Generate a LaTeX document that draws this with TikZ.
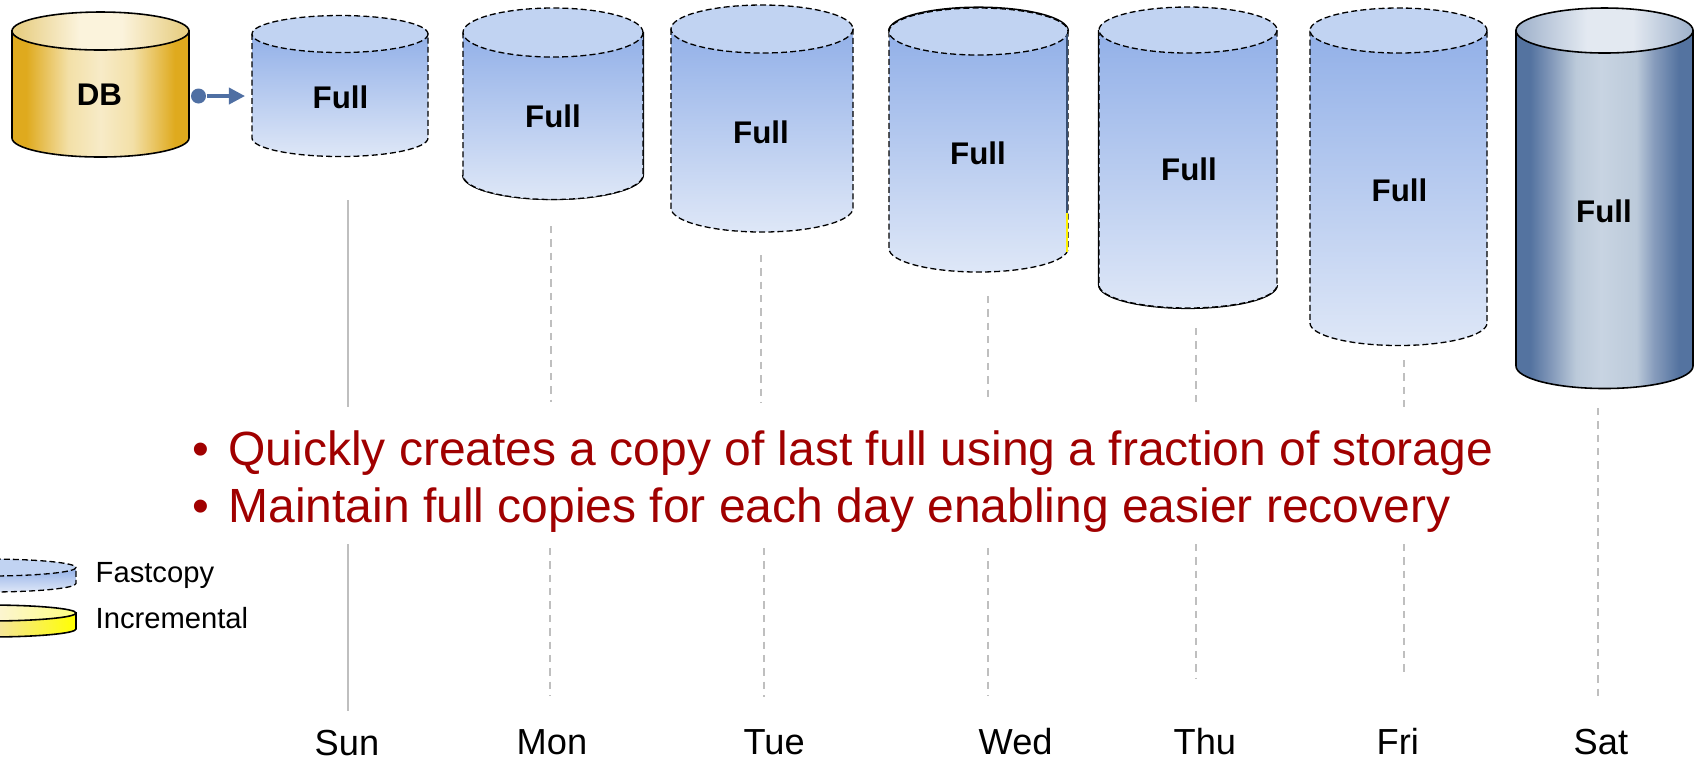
\documentclass[tikz,border=0pt]{standalone}
\usepackage{fontspec}
\usepackage{xcolor}
\setmainfont{Liberation Sans}
\usetikzlibrary{arrows.meta}

\definecolor{fulltop}{RGB}{146,176,232}
\definecolor{fullbot}{RGB}{222,231,247}
\definecolor{fullend}{RGB}{193,211,242}
\definecolor{dbedge}{RGB}{223,170,30}
\definecolor{dbhalf}{RGB}{243,224,168}
\definecolor{dbmid}{RGB}{247,235,200}
\definecolor{dbendedge}{RGB}{232,207,133}
\definecolor{dbendmid}{RGB}{251,243,220}
\definecolor{satedge}{RGB}{84,115,160}
\definecolor{satlow}{RGB}{135,156,188}
\definecolor{sathalf}{RGB}{188,202,218}
\definecolor{satmid}{RGB}{200,212,226}
\definecolor{satendedge}{RGB}{157,176,202}
\definecolor{satendmid}{RGB}{227,233,241}
\definecolor{flowblue}{RGB}{79,111,163}
\definecolor{textred}{RGB}{160,0,0}
\definecolor{linegray}{RGB}{191,191,191}

\pgfdeclarehorizontalshading{dbbodyshade}{100bp}{color(0bp)=(dbedge); color(29bp)=(dbedge); color(41bp)=(dbhalf); color(50bp)=(dbmid); color(59bp)=(dbhalf); color(71bp)=(dbedge); color(100bp)=(dbedge)}
\pgfdeclarehorizontalshading{dbendshade}{100bp}{color(0bp)=(dbendedge); color(27bp)=(dbendedge); color(44bp)=(dbendmid); color(56bp)=(dbendmid); color(73bp)=(dbendedge); color(100bp)=(dbendedge)}
\pgfdeclarehorizontalshading{satbodyshade}{100bp}{color(0bp)=(satedge); color(29bp)=(satedge); color(35.5bp)=(satlow); color(42bp)=(sathalf); color(49bp)=(satmid); color(59bp)=(sathalf); color(64bp)=(satlow); color(71bp)=(satedge); color(100bp)=(satedge)}
\pgfdeclarehorizontalshading{satendshade}{100bp}{color(0bp)=(satendedge); color(25bp)=(satendedge); color(45bp)=(satendmid); color(58bp)=(satendmid); color(75bp)=(satendedge); color(100bp)=(satendedge)}

\tikzset{
  fastline/.style={draw=black,line width=0.37pt,dash pattern=on 1.7pt off 0.9pt},
  fastbody/.style={fastline,top color=fulltop,bottom color=fullbot},
  fastend/.style={fastline,fill=fullend},
  dbbody/.style={draw=black,line width=0.45pt,shade,shading=dbbodyshade},
  dbend/.style={draw=black,line width=0.45pt,shade,shading=dbendshade},
  satbody/.style={draw=black,line width=0.45pt,shade,shading=satbodyshade},
  satend/.style={draw=black,line width=0.45pt,shade,shading=satendshade},
  incbody/.style={draw=black,line width=0.45pt,left color=dbedge,right color=yellow,middle color=dbmid!85!dbedge},
  incend/.style={draw=black,line width=0.45pt,left color=dbendedge,right color=yellow!50,middle color=dbendmid},
  shadowline/.style={draw=black,line width=0.6pt},
  dayline/.style={draw=linegray,line width=0.75pt},
  daydash/.style={dayline,dash pattern=on 2.1pt off 1.7pt},
  cyllabel/.style={font=\fontsize{8.9}{10}\selectfont\bfseries,inner sep=0pt},
  daylabel/.style={font=\fontsize{10.3}{12}\selectfont,anchor=base west,inner sep=0pt},
  keylabel/.style={font=\fontsize{8.3}{10}\selectfont,anchor=base west,inner sep=0pt},
  redline/.style={font=\fontsize{13.65}{16}\selectfont,text=textred,anchor=base west,inner sep=0pt},
  flowdot/.style={circle,fill=flowblue,inner sep=0pt,minimum size=0.15cm},
  flowline/.style={draw=flowblue,line width=1pt,-{Triangle[length=0.16cm,width=0.16cm]}}
}

% center x, x radius, top y, y radius, bottom y, body style, end style
\newcommand{\drum}[7]{
  \path[#6] (#1-#2,#3) -- (#1-#2,#5) arc[start angle=180,end angle=0,x radius=#2,y radius=#4] -- (#1+#2,#3) -- cycle;
  \path[#7] (#1,#3) ellipse [x radius=#2,y radius=#4];
}

\begin{document}
\begin{tikzpicture}[x=0.01cm,y=-0.01cm]
\clip (0,0) rectangle (1696,759);

% lines under the drums
\draw[dayline] (348,200) -- (348,407);
\draw[dayline] (348,544) -- (348,711);
\draw[daydash] (551,226) -- (551,402);
\draw[daydash] (550,548) -- (550,696);
\draw[daydash] (761,255) -- (761,403);
\draw[daydash] (764,548) -- (764,697);
\draw[daydash] (988,296) -- (988,402);
\draw[daydash] (988,548) -- (988,696);
\draw[daydash] (1196,328) -- (1196,406);
\draw[daydash] (1196,544) -- (1196,679);
\draw[daydash] (1404,360) -- (1404,407);
\draw[daydash] (1404,544) -- (1404,676);
\draw[daydash] (1598,408) -- (1598,696);

% rough edges left behind the copies
\draw[shadowline] (463,175) arc[start angle=180,end angle=0,x radius=90,y radius=24] -- (643,32);
\draw[shadowline] (1099,30) -- (1099,285) arc[start angle=180,end angle=0,x radius=89,y radius=23];
\draw[shadowline] (889,31) arc[start angle=180,end angle=360,x radius=89.5,y radius=23.5];

% drums
\drum{100.5}{88.5}{31}{19}{138}{dbbody}{dbend}
\drum{340}{88}{34}{18.5}{138}{fastbody}{fastend}
\drum{553}{90}{32.5}{24.5}{175}{fastbody}{fastend}
\drum{762}{91}{29}{24}{208}{fastbody}{fastend}
\drum{978.5}{89.5}{31.5}{23.5}{248.5}{fastbody}{fastend}
\drum{1188}{89}{30}{23}{285}{fastbody}{fastend}
\drum{1398.5}{88.5}{30.5}{22.5}{323}{fastbody}{fastend}
\drum{1604.5}{88.5}{30.5}{22.5}{366}{satbody}{satend}

\fill[flowblue!70!black] (1065.5,34) rectangle (1068,213);
\fill[yellow] (1065.5,213) rectangle (1068,252);

\node[cyllabel] (db) at (99.5,95) {DB};
\node[cyllabel] (sun) at (340.5,97) {Full};
\node[cyllabel] (mon) at (553,116) {Full};
\node[cyllabel] (tue) at (761,132) {Full};
\node[cyllabel] (wed) at (978,153) {Full};
\node[cyllabel] (thu) at (1189,169) {Full};
\node[cyllabel] (fri) at (1399.5,190) {Full};
\node[cyllabel] (sat) at (1604,211) {Full};

% arrow out of the database
\node[flowdot] (dot) at (198.5,96) {};
\coordinate (dotend) at (245,96);
\draw[flowline] (dot) -- (dotend);

% red lines
\node[redline] (lineone) at (191.7,465) {\makebox[0.36cm][l]{•}Quickly creates a copy of last full using a fraction of storage};
\node[redline] (linetwo) at (191.7,522) {\makebox[0.36cm][l]{•}Maintain full copies for each day enabling easier recovery};

% key
\drum{-12}{88}{567.5}{8.5}{583.5}{fastbody}{fastend}
\drum{-12}{88}{613}{8}{629}{incbody}{incend}
\node[keylabel] (fastcopy) at (95,582) {Fastcopy};
\node[keylabel] (incremental) at (95,628) {Incremental};

% days
\node[daylabel] (sunday) at (314,755) {Sun};
\node[daylabel] (monday) at (516,754) {Mon};
\node[daylabel] (tuesday) at (743,754) {Tue};
\node[daylabel] (wednesday) at (978,754) {Wed};
\node[daylabel] (thursday) at (1173,754) {Thu};
\node[daylabel] (friday) at (1376,754) {Fri};
\node[daylabel] (saturday) at (1573,754) {Sat};
\end{tikzpicture}
\end{document}
